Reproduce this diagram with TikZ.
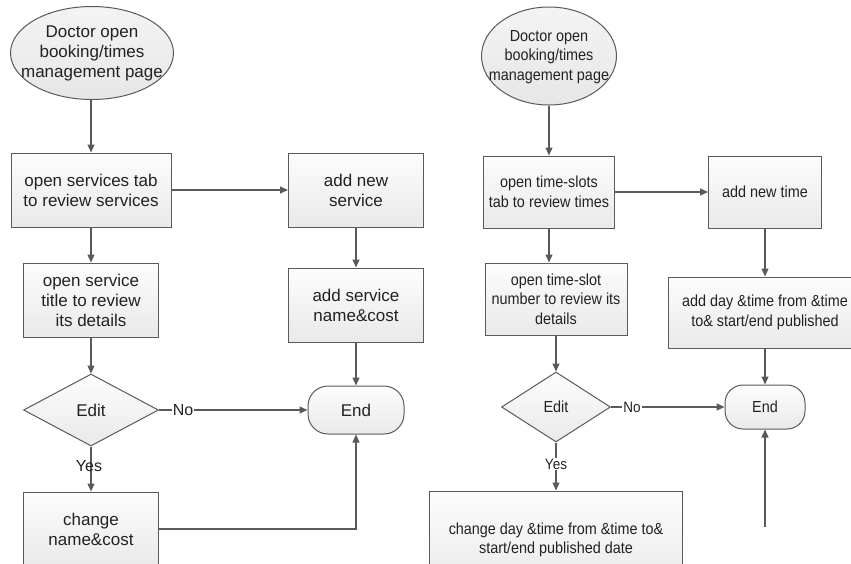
\documentclass[tikz,border=0pt]{standalone}
\usepackage{fontspec}
\setmainfont{Liberation Sans}
\newfontfamily\rfont[FakeStretch=0.9]{Liberation Sans}
\usetikzlibrary{shapes.geometric,arrows.meta}
\definecolor{ln}{HTML}{5A5A5A}
\definecolor{txt}{HTML}{222222}
\begin{document}
\begin{tikzpicture}[x=1pt,y=-1pt,
  shp/.style={draw=ln,line width=1pt,top color=gray!2,bottom color=gray!17,align=center,inner sep=0pt,text=txt},
  box/.style={shp,rectangle},
  ell/.style={shp,ellipse,top color=gray!9,bottom color=gray!19},
  dia/.style={shp,diamond},
  term/.style={shp,rectangle,rounded corners=20pt},
  lf/.style={font=\fontsize{17}{20}\selectfont},
  rf/.style={font=\rfont\fontsize{16}{19.5}\selectfont},
  lab/.style={inner sep=1pt,text=txt},
  etxt/.style={align=center,inner sep=0pt,text=txt},
  arr/.style={draw=ln,line width=1.1pt,-{Triangle[length=8pt,width=7pt]}},
  ln/.style={draw=ln,line width=1.1pt}]
\useasboundingbox (0,0) rectangle (851,563);
\clip (0,0) rectangle (851,563);
\fill[white] (0,0) rectangle (851,563);
% ---------- left flowchart ----------
\node[ell,minimum width=163,minimum height=93] (e1) at (92,53) {};
\node[etxt,lf] (e1t) at (92,53) {Doctor open\\booking/times\\management page};
\node[box,lf,minimum width=160,minimum height=74] (b1) at (91,190) {open services tab\\to review services};
\node[box,lf,minimum width=135,minimum height=74] (b2) at (356,190) {add new\\service};
\node[box,lf,minimum width=135,minimum height=74] (b3) at (91,300) {open service\\title to review\\its details};
\node[box,lf,minimum width=135,minimum height=74] (b4) at (356,305) {add service\\name\&cost};
\node[dia,lf,minimum width=135,minimum height=72] (d1) at (91,410) {Edit};
\node[term,lf,minimum width=96,minimum height=48] (t1) at (356,410) {End};
\node[box,lf,minimum width=135,minimum height=74] (b5) at (91,529) {change\\name\&cost};
\draw[arr] (e1.south -| b1.north) -- (b1.north);
\draw[arr] (b1) -- (b2);
\draw[arr] (b1) -- (b3);
\draw[arr] (b2) -- (b4);
\draw[arr] (b3) -- (d1);
\draw[arr] (b4) -- (t1);
\draw[arr] (d1) -- (t1);
\node[lab,fill=white,font=\fontsize{16}{19}\selectfont] (no1) at (183,410) {No};
\draw[arr] (d1) -- (b5);
\node[lab,font=\fontsize{16}{19}\selectfont] (yes1) at (89,466) {Yes};
\draw[arr] (b5) -| (t1);
% ---------- right flowchart ----------
\node[ell,minimum width=135,minimum height=98] (e2) at (549,56) {};
\node[etxt,rf] (e2t) at (549,57) {Doctor open\\booking/times\\management page};
\node[box,rf,minimum width=131,minimum height=72] (r1) at (549,192) {open time-slots\\tab to review times};
\node[box,rf,minimum width=113,minimum height=72] (r2) at (765,192) {add new time};
\node[box,rf,minimum width=142,minimum height=72] (r3) at (556,299) {open time-slot\\number to review its\\details};
\node[box,rf,minimum width=194,minimum height=71] (r4) at (765,312.5) {add day \&time from \&time\\to\& start/end published};
\node[dia,rf,minimum width=109,minimum height=70] (d2) at (556,407) {Edit};
\node[term,rf,minimum width=80,minimum height=44,rounded corners=18pt] (t2) at (765,407) {End};
\node[box,rf,minimum width=253,minimum height=98] (r5) at (556,540) {change day \&time from \&time to\&\\start/end published date};
\coordinate (free) at (765,527);
\draw[arr] (e2) -- (r1);
\draw[arr] (r1) -- (r2);
\draw[arr] (r1.south) -- (r1.south |- r3.north);
\draw[arr] (r2) -- (r4);
\draw[arr] (r3) -- (d2);
\draw[arr] (r4) -- (t2);
\draw[arr] (d2) -- (t2);
\node[lab,fill=white,font=\rfont\fontsize{15}{18}\selectfont] (no2) at (632,407) {No};
\draw[arr] (d2) -- (r5);
\node[lab,fill=white,font=\rfont\fontsize{15}{18}\selectfont] (yes2) at (556,464) {Yes};
\draw[arr] (free) -- (t2);
\end{tikzpicture}
\end{document}
